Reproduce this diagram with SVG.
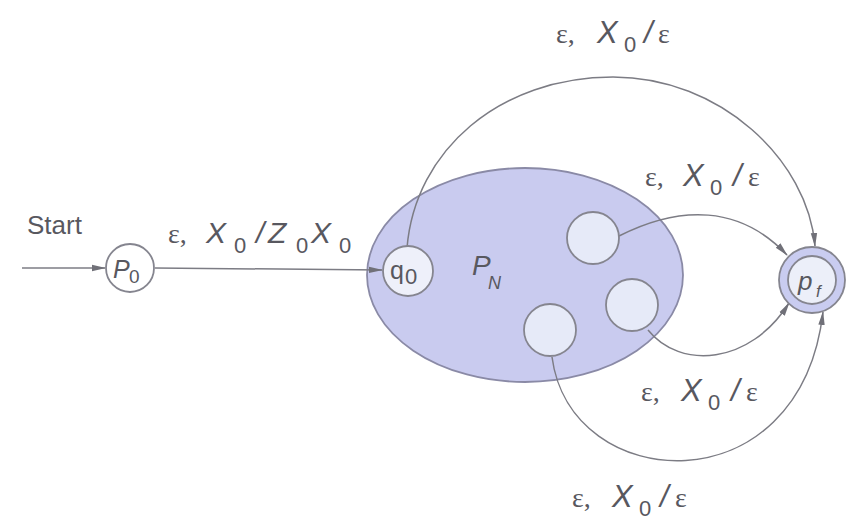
<svg xmlns="http://www.w3.org/2000/svg" width="846" height="523" viewBox="0 0 846 523">
<defs>
<marker id="ah" viewBox="0 0 14 8" refX="13" refY="4" markerWidth="14" markerHeight="8" markerUnits="userSpaceOnUse" orient="auto">
<path d="M0,0.8 L14,4 L0,7.2 Z" fill="#707078"/>
</marker>
</defs>
<style>
.edge{fill:none;stroke:#7c7c84;stroke-width:1.5}
.lbl{font-family:"Liberation Sans",Arial,sans-serif;fill:#58585f;font-style:italic}
.eps{font-family:"Liberation Serif",serif;fill:#58585f;font-style:normal}
.sub{font-size:22px;font-style:normal}
.state{stroke:#85858f;stroke-width:1.8}
</style>
<rect width="846" height="523" fill="#ffffff"/>

<g id="PN">
<ellipse cx="525" cy="275" rx="158" ry="107" fill="#c9cbef" stroke="#8a8aa6" stroke-width="1.8"/>
<text class="lbl" font-size="28" x="472" y="275">P</text>
<text class="lbl" font-size="18" x="488" y="289">N</text>
</g>

<g id="connectors">
<line class="edge" x1="22" y1="268" x2="105" y2="268" marker-end="url(#ah)"/>
<line class="edge" x1="155" y1="268" x2="382" y2="270" marker-end="url(#ah)"/>
<path class="edge" d="M 407 248 C 415 150, 500 77, 613 77 C 720 77, 808 160, 815 246" marker-end="url(#ah)"/>
<path class="edge" d="M 619 236 C 680 205, 740 205, 787 255" marker-end="url(#ah)"/>
<path class="edge" d="M 648 330 C 680 370, 750 365, 789 303" marker-end="url(#ah)"/>
<path class="edge" d="M 552 357 C 570 495, 800 510, 823 312" marker-end="url(#ah)"/>
</g>

<g id="labels">
<text class="lbl" x="27" y="234" font-size="26" style="font-style:normal">Start</text>
<text class="lbl" font-size="30" y="243"><tspan class="eps" x="168" font-size="28">ε,</tspan><tspan x="206">X</tspan><tspan class="sub" x="234" y="253">0</tspan><tspan x="256" y="243">/</tspan><tspan x="268">Z</tspan><tspan class="sub" x="296" y="253">0</tspan><tspan x="311" y="243">X</tspan><tspan class="sub" x="339" y="253">0</tspan></text>
<text class="lbl" font-size="31" y="43"><tspan class="eps" x="556" font-size="28">ε,</tspan><tspan x="597">X</tspan><tspan class="sub" x="624" y="52">0</tspan><tspan x="644" y="43">/</tspan><tspan class="eps" x="658" font-size="28">ε</tspan></text>
<text class="lbl" font-size="31" y="186"><tspan class="eps" x="645" font-size="28">ε,</tspan><tspan x="683">X</tspan><tspan class="sub" x="710" y="195">0</tspan><tspan x="733" y="186">/</tspan><tspan class="eps" x="748" font-size="28">ε</tspan></text>
<text class="lbl" font-size="31" y="401"><tspan class="eps" x="641" font-size="28">ε,</tspan><tspan x="681">X</tspan><tspan class="sub" x="708" y="410">0</tspan><tspan x="731" y="401">/</tspan><tspan class="eps" x="746" font-size="28">ε</tspan></text>
<text class="lbl" font-size="31" y="507"><tspan class="eps" x="572" font-size="28">ε,</tspan><tspan x="612">X</tspan><tspan class="sub" x="639" y="516">0</tspan><tspan x="660" y="507">/</tspan><tspan class="eps" x="675" font-size="28">ε</tspan></text>
</g>

<g id="p0">
<circle class="state" cx="130" cy="268" r="24" fill="#ffffff"/>
<text class="lbl" font-size="25" x="113" y="278">P</text>
<text class="lbl" font-size="19" x="129" y="283" style="font-style:normal">0</text>
</g>

<g id="q0">
<circle class="state" cx="408" cy="271" r="25" fill="#eef0fa"/>
<text class="lbl" font-size="25" x="390" y="279" style="font-style:normal">q</text>
<text class="lbl" font-size="22" x="405" y="284" style="font-style:normal">0</text>
</g>

<g id="s1">
<circle class="state" cx="593" cy="238" r="26" fill="#e6eaf8"/>
</g>
<g id="s2">
<circle class="state" cx="632" cy="305" r="26" fill="#e6eaf8"/>
</g>
<g id="s3">
<circle class="state" cx="550" cy="330" r="26" fill="#e6eaf8"/>
</g>

<g id="pf">
<circle class="state" cx="812" cy="280" r="33" fill="#c9ccf0"/>
<circle class="state" cx="812" cy="280" r="24" fill="#eceff9" stroke-width="1.4"/>
<text class="lbl" font-size="26" x="798" y="290">p</text>
<text class="lbl" font-size="17" x="816" y="297">f</text>
</g>
</svg>
